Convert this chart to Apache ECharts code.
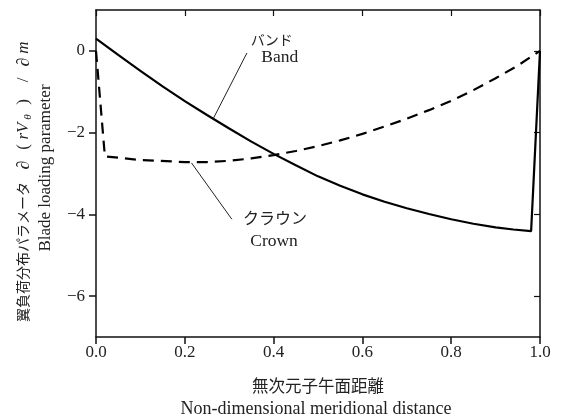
<!DOCTYPE html>
<html>
<head>
<meta charset="utf-8">
<script src="https://cdn.jsdelivr.net/npm/echarts@6/dist/echarts.min.js"></script>
<style>
  html, body { margin: 0; padding: 0; background: #fff; }
  #chart { width: 562px; height: 418px; }
</style>
</head>
<body>
<div id="chart"></div>
<script>
// Blade loading parameter along the meridional distance, band and crown sides.
const bandX  = [0.00, 0.05, 0.10, 0.15, 0.20, 0.25, 0.30, 0.35, 0.40, 0.45, 0.50,
                0.55, 0.60, 0.65, 0.70, 0.75, 0.80, 0.85, 0.90, 0.94, 0.98, 1.00];
const bandY  = [0.30, -0.10, -0.49, -0.87, -1.23, -1.57, -1.90, -2.22, -2.52, -2.80, -3.07,
                -3.30, -3.51, -3.69, -3.85, -3.99, -4.12, -4.23, -4.32, -4.37, -4.41, 0.00];

const crownX = [0.00, 0.02, 0.10, 0.20, 0.25, 0.30, 0.35, 0.40, 0.45, 0.50, 0.55,
                0.60, 0.65, 0.70, 0.75, 0.80, 0.85, 0.90, 0.95, 1.00];
const crownY = [0.00, -2.58, -2.67, -2.72, -2.72, -2.69, -2.63, -2.55, -2.45, -2.33, -2.19,
                -2.03, -1.85, -1.66, -1.45, -1.22, -0.96, -0.67, -0.36, 0.00];

const xTickValues = [0, 0.2, 0.4, 0.6, 0.8, 1.0];
const yTickValues = [-6, -4, -2, 0];

// Callout labels: text anchors and leader line end points, in data units
const bandLabelJa  = 'バンド',   bandLabelEn  = 'Band';
const crownLabelJa = 'クラウン', crownLabelEn = 'Crown';
const bandLabelPos  = [[0.396, 0.24], [0.414, -0.15]];
const crownLabelPos = [[0.403, -4.13], [0.401, -4.65]];
const bandLeader  = [[0.340, -0.05], [0.264, -1.66]];
const crownLeader = [[0.215, -2.74], [0.306, -4.12]];

const pairs = (xs, ys) => xs.map((x, i) => [x, ys[i]]);

const INK = '#111';
const TXT = '#222';
const FONT = "'Liberation Serif', 'Noto Sans CJK JP', serif";

const chart = echarts.init(document.getElementById('chart'), null, { renderer: 'canvas' });

const axisLineStyle = { show: true, onZero: false, lineStyle: { color: INK, width: 1.5 } };

chart.setOption({
  animation: false,
  backgroundColor: '#fff',
  grid: { left: 96, right: 22, top: 10, bottom: 81, containLabel: false },
  xAxis: [
    {
      type: 'value', position: 'bottom', min: 0, max: 1, interval: 0.2,
      axisLine: axisLineStyle,
      axisTick: { show: true, inside: false, length: 7, lineStyle: { color: INK, width: 1.5 } },
      axisLabel: {
        show: true, margin: 7, color: TXT, fontFamily: FONT, fontSize: 17,
        formatter: v => v.toFixed(1)
      },
      splitLine: { show: false }
    },
    {
      type: 'value', position: 'top', min: 0, max: 1, interval: 0.2,
      axisLine: axisLineStyle,
      axisTick: { show: true, inside: true, length: 6, lineStyle: { color: INK, width: 1.2 } },
      axisLabel: { show: false },
      splitLine: { show: false }
    }
  ],
  yAxis: [
    {
      type: 'value', position: 'left', min: -7, max: 1,
      axisLine: axisLineStyle,
      axisTick: { show: true, inside: false, length: 7, customValues: yTickValues,
                  lineStyle: { color: INK, width: 1.5 } },
      axisLabel: {
        show: true, margin: 11, color: TXT, fontFamily: FONT, fontSize: 17,
        customValues: yTickValues,
        formatter: v => (v < 0 ? '\u2212' + Math.abs(v) : String(v))
      },
      splitLine: { show: false }
    },
    {
      type: 'value', position: 'right', min: -7, max: 1,
      axisLine: axisLineStyle,
      axisTick: { show: true, inside: true, length: 6, customValues: yTickValues,
                  lineStyle: { color: INK, width: 1.2 } },
      axisLabel: { show: false },
      splitLine: { show: false }
    }
  ],
  series: [
    {
      name: 'Band', type: 'line', xAxisIndex: 0, yAxisIndex: 0,
      data: pairs(bandX, bandY), showSymbol: false, symbol: 'none', clip: false,
      lineStyle: { color: '#000', width: 2.2 }
    },
    {
      name: 'Crown', type: 'line', xAxisIndex: 0, yAxisIndex: 0,
      data: pairs(crownX, crownY), showSymbol: false, symbol: 'none', clip: false,
      lineStyle: { color: '#000', width: 2.2, type: [11, 7] }
    },
    {
      name: 'bandLeader', type: 'line', data: bandLeader, symbol: 'none', silent: true,
      lineStyle: { color: TXT, width: 1 }
    },
    {
      name: 'crownLeader', type: 'line', data: crownLeader, symbol: 'none', silent: true,
      lineStyle: { color: TXT, width: 1 }
    }
  ]
});

// Callout texts and axis titles
function label(text, dataPos, size) {
  const p = chart.convertToPixel({ gridIndex: 0 }, dataPos);
  return {
    type: 'text', x: p[0], y: p[1], silent: true,
    style: { text, fill: TXT, font: size + 'px ' + FONT, align: 'center', verticalAlign: 'middle' }
  };
}

const yTitleRich = {
  ja:  { fontFamily: FONT, fontSize: 14, fill: TXT, width: 150 },
  d1:  { fontFamily: FONT, fontSize: 18, fill: TXT, width: 24 },
  lp:  { fontFamily: FONT, fontSize: 17, fill: TXT, width: 12 },
  rv:  { fontFamily: FONT, fontSize: 17, fontStyle: 'italic', fill: TXT, width: 20 },
  sub: { fontFamily: FONT, fontSize: 11, fontStyle: 'italic', fill: TXT, width: 8, padding: [8, 0, 0, 0] },
  rp:  { fontFamily: FONT, fontSize: 17, fill: TXT, width: 22 },
  sl:  { fontFamily: FONT, fontSize: 17, fill: TXT, width: 22 },
  d2:  { fontFamily: FONT, fontSize: 18, fill: TXT, width: 14 },
  m:   { fontFamily: FONT, fontSize: 17, fontStyle: 'italic', fill: TXT, width: 15 }
};

chart.setOption({
  graphic: [
    label(bandLabelJa, bandLabelPos[0], 14),
    label(bandLabelEn, bandLabelPos[1], 17.5),
    label(crownLabelJa, crownLabelPos[0], 16),
    label(crownLabelEn, crownLabelPos[1], 17.5),
    {
      type: 'text', x: 318, y: 388, silent: true,
      style: { text: '無次元子午面距離', fill: TXT, font: '16.5px ' + FONT, align: 'center', verticalAlign: 'middle' }
    },
    {
      type: 'text', x: 316, y: 409, silent: true,
      style: { text: 'Non-dimensional meridional distance', fill: TXT, font: '18px ' + FONT, align: 'center', verticalAlign: 'middle' }
    },
    {
      type: 'text', x: 24, y: 183.5, rotation: Math.PI / 2, silent: true,
      style: {
        text: '{ja|翼負荷分布パラメータ}{d1|\u2202}{lp|(}{rv|rV}{sub|\u03B8}{rp|)}{sl|/}{d2|\u2202}{m|m}',
        rich: yTitleRich, align: 'center', verticalAlign: 'middle'
      }
    },
    {
      type: 'text', x: 46, y: 168, rotation: Math.PI / 2, silent: true,
      style: { text: 'Blade loading parameter', fill: TXT, font: '17px ' + FONT, align: 'center', verticalAlign: 'middle' }
    }
  ]
});
</script>
</body>
</html>
